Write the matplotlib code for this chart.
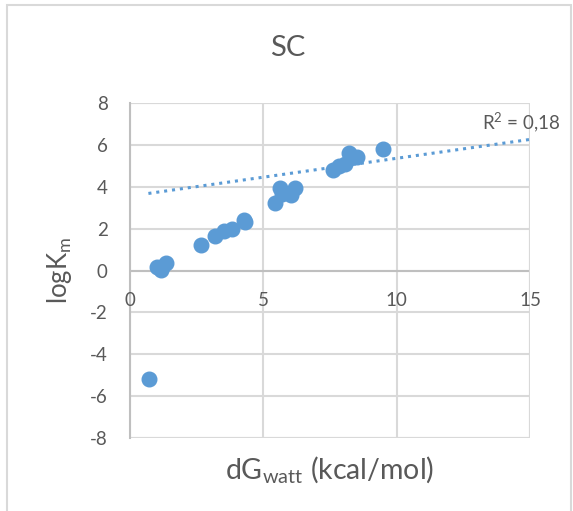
import matplotlib
matplotlib.use("Agg")
import matplotlib.pyplot as plt
from matplotlib.patches import Rectangle

# Data
dg_watt = [0.71, 1.03, 1.18, 1.21, 1.34, 2.68, 3.20, 3.51, 3.81, 4.29, 4.31,
           5.44, 5.64, 5.70, 6.04, 6.19, 7.63, 7.83, 8.08, 8.21, 8.52, 9.49]
log_km = [-5.20, 0.16, 0.03, 0.19, 0.35, 1.20, 1.63, 1.87, 2.00, 2.43, 2.30,
          3.23, 3.95, 3.63, 3.60, 3.92, 4.80, 4.99, 5.07, 5.63, 5.42, 5.79]
trend_x = [0.69, 15.0]
trend_y = [3.68, 6.26]
x_ticks = [0, 5, 10, 15]
y_ticks = [-8, -6, -4, -2, 0, 2, 4, 6, 8]
title = "SC"
r2_label = "R$^{\\mathregular{2}}$ = 0,18"

plt.rcParams['font.family'] = ['Lato', 'DejaVu Sans']
plt.rcParams['axes.unicode_minus'] = False
blue = '#5b9bd5'
txt = '#595959'
grid = '#d9d9d9'
fs_tick = 13.5

fig = plt.figure(figsize=(5.73, 5.11), dpi=100)
ax = fig.add_axes([130/573, 1-438/511, 400/573, 335/511])

ax.set_xlim(0, 15)
ax.set_ylim(-8, 8)
ax.set_xticks(x_ticks)
ax.set_yticks(y_ticks)
ax.set_yticklabels([str(v) for v in y_ticks])
ax.grid(True, color=grid, linewidth=1.5)
ax.set_axisbelow(True)
for s in ['top', 'right', 'bottom']:
    ax.spines[s].set_visible(False)
ax.spines['left'].set_color('#bfbfbf')
ax.spines['left'].set_linewidth(1.5)
ax.axhline(0, color='#bfbfbf', linewidth=1.5, zorder=1)
ax.axhline(-8, color=grid, linewidth=1.5, zorder=1)
ax.axvline(15, color=grid, linewidth=1.5, zorder=1)
ax.axhline(8, color=grid, linewidth=1.5, zorder=1)

ax.tick_params(axis='both', length=0, labelsize=fs_tick, labelcolor=txt)
ax.tick_params(axis='y', pad=16)
ax.set_xticklabels([])
for xv in x_ticks:
    ax.annotate(str(xv), xy=(xv, 0), xytext=(0, -21), textcoords='offset pixels',
                ha='center', va='top', fontsize=fs_tick, color=txt)

ax.plot(trend_x, trend_y, color=blue, linewidth=2.2, linestyle=(0, (1, 1.6)), zorder=2)
ax.plot(dg_watt, log_km, 'o', color=blue, markersize=10.5, markeredgecolor=blue, zorder=3)

fig.text(521/573, 1-123/511, r2_label, ha='center', va='center',
         fontsize=fs_tick, color=txt)

fig.text(288/573, 1-48/511, title, ha='center', va='center', fontsize=21, color=txt)
ax.set_xlabel(r'dG$_{\mathregular{watt}}$ (kcal/mol)', fontsize=20.5, color=txt)
ax.set_ylabel(r'logK$_{\mathregular{m}}$', fontsize=18.5, color=txt)
ax.xaxis.set_label_coords(0.5, -0.05)
ax.yaxis.set_label_coords(-0.14, 0.5)

fig.patches.append(Rectangle((7/573, -0.05), 564/573, 1.05 - 5/511, transform=fig.transFigure,
                             fill=False, edgecolor=grid, linewidth=1.5))

fig.savefig('out.png', dpi=100)
